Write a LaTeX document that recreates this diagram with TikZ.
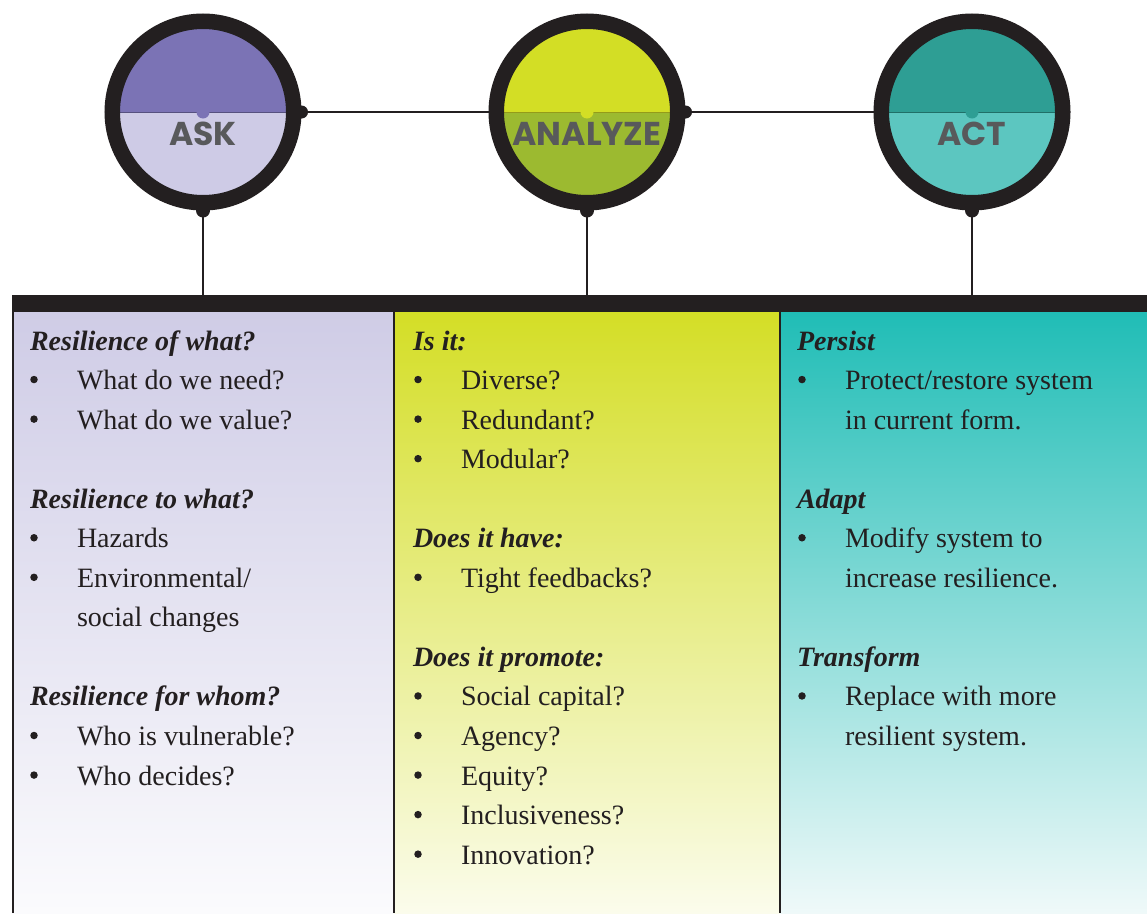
\documentclass[tikz,border=0pt]{standalone}
\usepackage{fontspec}
\setmainfont{Liberation Serif}
\newfontfamily\circfont{Poppins}
\definecolor{ink}{HTML}{231F20}
\definecolor{lblc}{HTML}{58595B}
\definecolor{askTop}{HTML}{7B73B5}
\definecolor{askBot}{HTML}{CECBE6}
\definecolor{anaTop}{HTML}{D3DE25}
\definecolor{anaBot}{HTML}{9CBA30}
\definecolor{actTop}{HTML}{2E9E94}
\definecolor{actBot}{HTML}{5CC6C0}
\definecolor{pOneTop}{HTML}{CFCCE6}
\definecolor{pOneBot}{HTML}{FBFBFD}
\definecolor{pTwoTop}{HTML}{D4DE26}
\definecolor{pTwoBot}{HTML}{FBFCEC}
\definecolor{pThreeTop}{HTML}{20BDB6}
\definecolor{pThreeBot}{HTML}{EFF9F9}
\tikzset{
  txt/.style={anchor=base west, inner sep=0pt, outer sep=0pt, text=ink, font=\fontsize{28}{34}\selectfont},
  hd/.style={anchor=base west, inner sep=0pt, outer sep=0pt, text=ink, font=\fontsize{28}{34}\selectfont\bfseries\itshape},
  bul/.style={circle, fill=ink, minimum size=7.5pt, inner sep=0pt, outer sep=0pt},
  ring/.style={circle, draw=ink, line width=15.5pt, minimum size=181.5pt, inner sep=0pt},
  conn/.style={draw=ink, line width=2pt},
  dot/.style={fill=ink},
  lbl/.style={inner sep=0pt, text=lblc, font=\circfont\fontsize{33}{33}\selectfont\bfseries},
  split/.style={line width=0.5pt},
  divider/.style={draw=ink, line width=2pt}
}
\begin{document}
\begin{tikzpicture}[x=1pt,y=-1pt]
\useasboundingbox (0,0) rectangle (1147,913);
% panels
\shade[top color=pOneTop, bottom color=pOneBot] (12,312) rectangle (394,913);
\shade[top color=pTwoTop, bottom color=pTwoBot] (394,312) rectangle (780,913);
\shade[top color=pThreeTop, bottom color=pThreeBot] (780,312) rectangle (1147,913);
\draw[divider, line width=1.5pt] (12.75,312) -- (12.75,913);
\draw[divider] (394,312) -- (394,913);
\draw[divider] (780,312) -- (780,913);
% bar
\node[fill=ink, minimum width=1135pt, minimum height=17pt, inner sep=0pt, outer sep=0pt, anchor=north west] (bar) at (12,295) {};
% circle fills
\begin{scope}
  \clip (203,112) circle (84pt);
  \fill[askTop] (100,0) rectangle (310,112);
  \fill[askBot] (100,112) rectangle (310,220);
\end{scope}
\draw[split, askTop!70!black] (119,112) -- (287,112);
\fill[askTop] (203,112) circle (6.5pt);
\begin{scope}
  \clip (587,112) circle (84pt);
  \fill[anaTop] (480,0) rectangle (700,112);
  \fill[anaBot] (480,112) rectangle (700,220);
\end{scope}
\draw[split, anaTop!70!black] (503,112) -- (671,112);
\fill[anaTop] (587,112) circle (6.5pt);
\begin{scope}
  \clip (972,112) circle (84pt);
  \fill[actTop] (860,0) rectangle (1080,112);
  \fill[actBot] (860,112) rectangle (1080,220);
\end{scope}
\draw[split, actTop!70!black] (888,112) -- (1056,112);
\fill[actTop] (972,112) circle (6.5pt);
% rings
\node[ring] (ask) at (203,112) {};
\node[ring] (analyze) at (587,112) {};
\node[ring] (act) at (972,112) {};
% connectors
\draw[conn] (ask.east) -- (analyze.west);
\draw[conn] (analyze.east) -- (act.west);
\draw[conn] (ask.south) -- (ask.south |- bar.north);
\draw[conn] (analyze.south) -- (analyze.south |- bar.north);
\draw[conn] (act.south) -- (act.south |- bar.north);
\fill[dot] (ask.east) circle (6.5pt);
\fill[dot] (analyze.east) circle (6.5pt);
\fill[dot] (ask.south) circle (7pt);
\fill[dot] (analyze.south) circle (7pt);
\fill[dot] (act.south) circle (7pt);
% labels
\node[lbl] (askl) at (203,134) {ASK};
\node[lbl] (anal) at (587,134) {ANALYZE};
\node[lbl] (actl) at (972,134) {ACT};
% panel 1
\node[hd] (a0) at (30,{350+39.55*0}) {Resilience of what?};
\node[bul] (ab1) at (34,{340+39.55*1}) {};
\node[txt] (a1) at (77,{350+39.55*1}) {What do we need?};
\node[bul] (ab2) at (34,{340+39.55*2}) {};
\node[txt] (a2) at (77,{350+39.55*2}) {What do we value?};
\node[hd] (a4) at (30,{350+39.55*4}) {Resilience to what?};
\node[bul] (ab5) at (34,{340+39.55*5}) {};
\node[txt] (a5) at (77,{350+39.55*5}) {Hazards};
\node[bul] (ab6) at (34,{340+39.55*6}) {};
\node[txt] (a6) at (77,{350+39.55*6}) {Environmental/};
\node[txt] (a7) at (77,{350+39.55*7}) {social changes};
\node[hd] (a9) at (30,{350+39.55*9}) {Resilience for whom?};
\node[bul] (ab10) at (34,{340+39.55*10}) {};
\node[txt] (a10) at (77,{350+39.55*10}) {Who is vulnerable?};
\node[bul] (ab11) at (34,{340+39.55*11}) {};
\node[txt] (a11) at (77,{350+39.55*11}) {Who decides?};
% panel 2
\node[hd] (b0) at (413,{350+39.55*0}) {Is it:};
\node[bul] (bb1) at (418,{340+39.55*1}) {};
\node[txt] (b1) at (461,{350+39.55*1}) {Diverse?};
\node[bul] (bb2) at (418,{340+39.55*2}) {};
\node[txt] (b2) at (461,{350+39.55*2}) {Redundant?};
\node[bul] (bb3) at (418,{340+39.55*3}) {};
\node[txt] (b3) at (461,{350+39.55*3}) {Modular?};
\node[hd] (b5) at (413,{350+39.55*5}) {Does it have:};
\node[bul] (bb6) at (418,{340+39.55*6}) {};
\node[txt] (b6) at (461,{350+39.55*6}) {Tight feedbacks?};
\node[hd] (b8) at (413,{350+39.55*8}) {Does it promote:};
\node[bul] (bb9) at (418,{340+39.55*9}) {};
\node[txt] (b9) at (461,{350+39.55*9}) {Social capital?};
\node[bul] (bb10) at (418,{340+39.55*10}) {};
\node[txt] (b10) at (461,{350+39.55*10}) {Agency?};
\node[bul] (bb11) at (418,{340+39.55*11}) {};
\node[txt] (b11) at (461,{350+39.55*11}) {Equity?};
\node[bul] (bb12) at (418,{340+39.55*12}) {};
\node[txt] (b12) at (461,{350+39.55*12}) {Inclusiveness?};
\node[bul] (bb13) at (418,{340+39.55*13}) {};
\node[txt] (b13) at (461,{350+39.55*13}) {Innovation?};
% panel 3
\node[hd] (c0) at (797,{350+39.55*0}) {Persist};
\node[bul] (cb1) at (802,{340+39.55*1}) {};
\node[txt] (c1) at (845,{350+39.55*1}) {Protect/restore system};
\node[txt] (c2) at (845,{350+39.55*2}) {in current form.};
\node[hd] (c4) at (797,{350+39.55*4}) {Adapt};
\node[bul] (cb5) at (802,{340+39.55*5}) {};
\node[txt] (c5) at (845,{350+39.55*5}) {Modify system to};
\node[txt] (c6) at (845,{350+39.55*6}) {increase resilience.};
\node[hd] (c8) at (797,{350+39.55*8}) {Transform};
\node[bul] (cb9) at (802,{340+39.55*9}) {};
\node[txt] (c9) at (845,{350+39.55*9}) {Replace with more};
\node[txt] (c10) at (845,{350+39.55*10}) {resilient system.};
\end{tikzpicture}
\end{document}
